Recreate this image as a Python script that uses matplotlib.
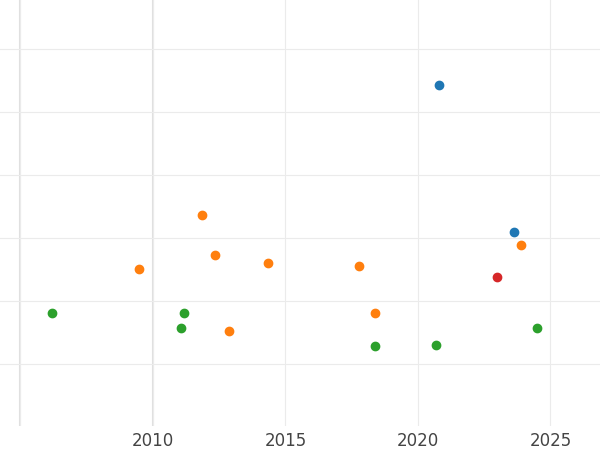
import matplotlib
matplotlib.use('Agg')
import matplotlib.pyplot as plt

# data
blue_x = [2020.79, 2023.62]
blue_y = [5.43, 3.10]
orange_x = [2011.85, 2009.47, 2012.34, 2014.34, 2017.77, 2023.89, 2018.38, 2012.87]
orange_y = [3.37, 2.51, 2.73, 2.60, 2.56, 2.90, 1.81, 1.52]
green_x = [2006.19, 2011.17, 2011.06, 2018.38, 2020.68, 2024.49]
green_y = [1.81, 1.81, 1.57, 1.29, 1.30, 1.57]
red_x = [2022.98]
red_y = [2.38]

fig = plt.figure(figsize=(6, 4.5), dpi=100)
ax = fig.add_axes([0, 24 / 450, 1, 426 / 450])

ax.scatter(blue_x, blue_y, color='#1f77b4', s=36, zorder=3)
ax.scatter(orange_x, orange_y, color='#ff7f0e', s=36, zorder=3)
ax.scatter(green_x, green_y, color='#2ca02c', s=36, zorder=3)
ax.scatter(red_x, red_y, color='#d62728', s=36, zorder=3)

ax.set_xlim(2004.23, 2026.87)
ax.set_ylim(0.02, 6.78)
ax.set_xticks([2005, 2010, 2015, 2020, 2025])
ax.set_xticklabels(['', '2010', '2015', '2020', '2025'])
ax.set_yticks([1, 2, 3, 4, 5, 6])
ax.set_yticklabels([])
ax.grid(True, color='#ebebeb', linewidth=0.8)
ax.axvline(2005, color='#e0e0e0', linewidth=1.5, zorder=1)
ax.axvline(2010, color='#e0e0e0', linewidth=1.5, zorder=1)
ax.tick_params(length=0, labelsize=12, labelcolor='#444444', pad=4)
for s in ax.spines.values():
    s.set_visible(False)

fig.savefig('out.png', dpi=100)
